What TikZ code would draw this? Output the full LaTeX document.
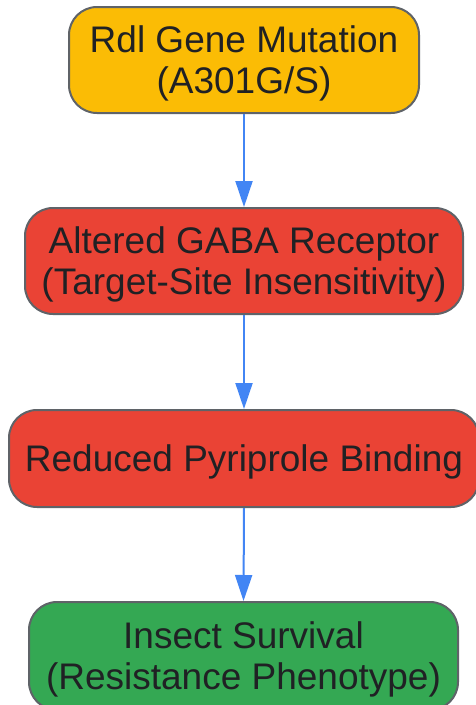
\documentclass[tikz,border=0pt]{standalone}
\usepackage{fontspec}
\setmainfont{Liberation Sans}
\usetikzlibrary{arrows.meta}
\definecolor{gy}{HTML}{FBBC05}
\definecolor{gr}{HTML}{EA4335}
\definecolor{gg}{HTML}{34A853}
\definecolor{gb}{HTML}{4285F4}
\definecolor{bd}{HTML}{5F6368}
\definecolor{tx}{HTML}{202124}
\tikzset{
  box/.style={draw=bd, line width=2pt, rounded corners=28pt, inner sep=0pt,
    align=center, text=tx, text depth=0pt, font=\fontsize{37}{41}\selectfont},
  flow/.style={draw=gb, line width=2pt, -{Triangle[length=26pt,width=17pt]}}
}
\begin{document}
\begin{tikzpicture}[x=1pt,y=-1pt]
\useasboundingbox (0,0) rectangle (475,705);
\fill[white] (0,0) rectangle (475,705);
\node[box, fill=gy, minimum width=350pt, minimum height=106pt] (n1) at (244,60) {Rdl Gene Mutation\\(A301G/S)};
\node[box, fill=gr, minimum width=438pt, minimum height=106pt] (n2) at (244,261) {Altered GABA Receptor\\(Target-Site Insensitivity)};
\node[box, fill=gr, minimum width=470pt, minimum height=97pt] (n3) at (244,458.5) {Reduced Pyriprole Binding};
\node[box, fill=gg, minimum width=429pt, minimum height=108pt] (n4) at (243.5,656) {Insect Survival\\(Resistance Phenotype)};
\draw[flow] (n1.south) -- (n2.north);
\draw[flow] (n2.south) -- (n3.north);
\draw[flow] (n3.south) -- (n4.north);
\end{tikzpicture}
\end{document}
